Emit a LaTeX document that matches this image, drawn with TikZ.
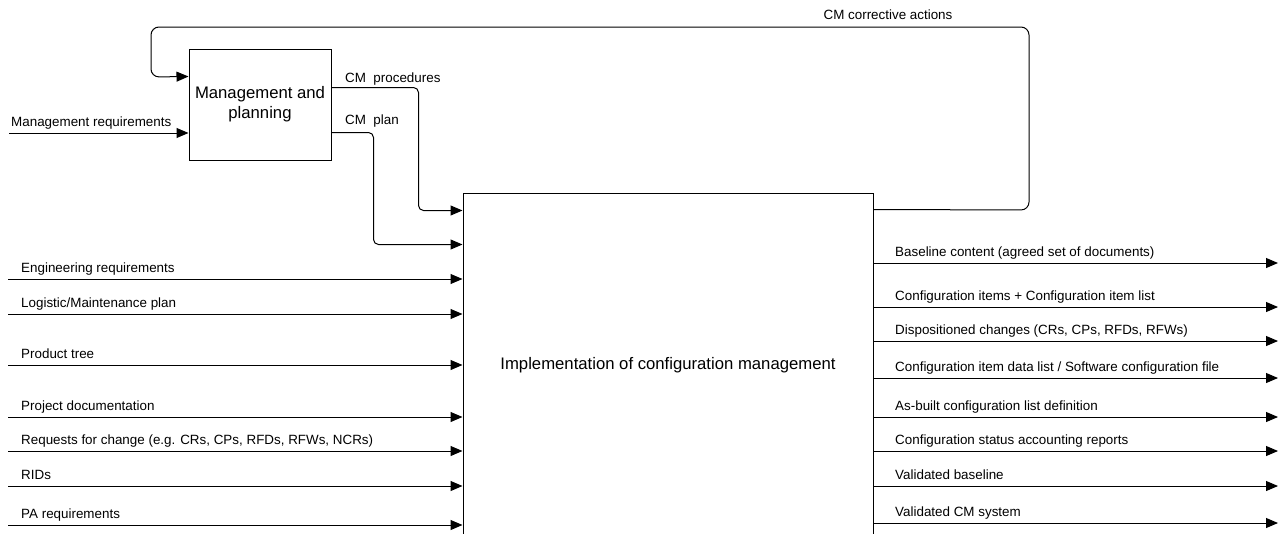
\documentclass[tikz,border=0pt]{standalone}
\usepackage{fontspec}
\setmainfont{Liberation Sans}
\usetikzlibrary{arrows.meta,positioning,calc}
\tikzstyle{block}=[draw,line width=1pt,inner sep=0pt,align=center,font=\fontsize{16.7}{20}\selectfont]
\tikzstyle{flow}=[line width=1pt,-{Triangle[length=12pt,width=10pt]}]
\tikzstyle{lbl}=[anchor=base west,inner sep=0pt,font=\fontsize{13.4}{16}\selectfont]

\begin{document}
\begin{tikzpicture}[x=1pt,y=-1pt]
\useasboundingbox (0,0) rectangle (1279,533);
\clip (0,0) rectangle (1279,533);
% the two activities
\node [block,minimum width=142pt,minimum height=111pt] (mgmt) at (260,104.5) {Management and\\planning};
\node [block,minimum width=410pt,minimum height=344pt] (impl) at (668,365) {Implementation of configuration management};
% feedback loop
\draw [flow,rounded corners=8pt] ($(impl.north east)+(0,17)$) -- (1029,210) -- (1029,27) -- (151,27) -- (151,77) -- ($(mgmt.north west)+(0,28)$);
\node [lbl,anchor=base] (cmca) at (888,19) {CM corrective actions};
% management inputs and outputs
\coordinate (mreq) at (9,133);
\draw [flow] (mreq) -- (mreq -| mgmt.west);
\node [lbl] at (11,126) {Management requirements};
\draw [flow,rounded corners=5pt] ($(mgmt.north east)+(0,39)$) -- ++(87,0) |- ($(impl.north west)+(0,18)$);
\node [lbl] (cmproc) at (345,82) {CM\ \ procedures};
\draw [flow,rounded corners=5pt] ($(mgmt.north east)+(0,84)$) -- ++(42,0) |- ($(impl.north west)+(0,52)$);
\node [lbl] (cmplan) at (345,124) {CM\ \ plan};
% inputs
\foreach \y/\txt [count=\i] in {279/{Engineering requirements},314/{Logistic/Maintenance plan},365/{Product tree},417/{Project documentation},451/{Requests for change (e.g. CRs, CPs, RFDs, RFWs, NCRs)},486/{RIDs},525/{PA requirements}}
{
  \coordinate (in\i) at (8,\y);
  \draw [flow] (in\i) -- (in\i -| impl.west);
  \node [lbl] at (21,\y-7) {\txt};
}
% outputs
\foreach \y/\txt [count=\i] in {263/{Baseline content (agreed set of documents)},307/{Configuration items + Configuration item list},341/{Dispositioned changes (CRs, CPs, RFDs, RFWs)},378/{Configuration item data list / Software configuration file},417/{As-built configuration list definition},451/{Configuration status accounting reports},486/{Validated baseline},523/{Validated CM system}}
{
  \coordinate (out\i) at (1278,\y);
  \draw [flow] (out\i -| impl.east) -- (out\i);
  \node [lbl] at (895,\y-7) {\txt};
}
\end{tikzpicture}
\end{document}
